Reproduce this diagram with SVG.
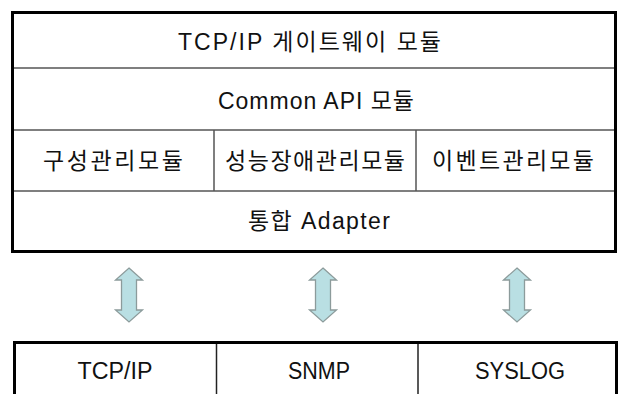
<svg xmlns="http://www.w3.org/2000/svg" width="620" height="394" viewBox="0 0 620 394">
<style>
.t{font-family:"Liberation Sans","Noto Sans CJK KR",sans-serif;font-size:23px;fill:#111;text-anchor:middle}
.outer{fill:#fff;stroke:#000;stroke-width:3}
.div{stroke:#555;stroke-width:1.5;fill:none}
.arr{fill:#b9dfe3;stroke:#8c9b9b;stroke-width:1.3;stroke-linejoin:miter}
</style>
<defs>
<path id="ud" d="M0,268 L13.5,280 L7.5,280 L7.5,310 L13.5,310 L0,322 L-13.5,310 L-7.5,310 L-7.5,280 L-13.5,280 Z"/>
</defs>
<rect width="620" height="394" fill="#fff"/>
<g id="stack">
<rect class="outer" x="12.5" y="12.5" width="603" height="239"/>
<line class="div" x1="14" y1="68" x2="614" y2="68"/>
<line class="div" x1="14" y1="130" x2="614" y2="130"/>
<line class="div" x1="14" y1="191" x2="614" y2="191"/>
<line class="div" x1="214" y1="130" x2="214" y2="191"/>
<line class="div" x1="416" y1="130" x2="416" y2="191"/>
</g>
<g id="gateway"><text class="t" x="309.5" y="50" textLength="263" lengthAdjust="spacing">TCP/IP 게이트웨이 모듈</text></g>
<g id="commonapi"><text class="t" x="316" y="109" textLength="196" lengthAdjust="spacing">Common API 모듈</text></g>
<g id="config"><text class="t" x="113" y="169" textLength="140" lengthAdjust="spacing">구성관리모듈</text></g>
<g id="perf"><text class="t" x="315" y="169" textLength="180" lengthAdjust="spacing">성능장애관리모듈</text></g>
<g id="event"><text class="t" x="513" y="169" textLength="162" lengthAdjust="spacing">이벤트관리모듈</text></g>
<g id="adapter"><text class="t" x="319" y="229" textLength="142" lengthAdjust="spacing">통합 Adapter</text></g>
<g id="protocols">
<rect class="outer" x="14.5" y="342.5" width="602" height="80"/>
<line class="div" x1="216.5" y1="344" x2="216.5" y2="394" style="stroke:#222"/>
<line class="div" x1="418" y1="344" x2="418" y2="394" style="stroke:#222"/>
</g>
<g id="tcpip"><text class="t" x="115" y="379" textLength="75" lengthAdjust="spacingAndGlyphs">TCP/IP</text></g>
<g id="snmp"><text class="t" x="319" y="379" textLength="62" lengthAdjust="spacingAndGlyphs">SNMP</text></g>
<g id="syslog"><text class="t" x="520" y="379" textLength="90" lengthAdjust="spacingAndGlyphs">SYSLOG</text></g>
<g id="connectors">
<use href="#ud" class="arr" transform="translate(129,0)"/>
<use href="#ud" class="arr" transform="translate(323,0)"/>
<use href="#ud" class="arr" transform="translate(517,0)"/>
</g>
</svg>
